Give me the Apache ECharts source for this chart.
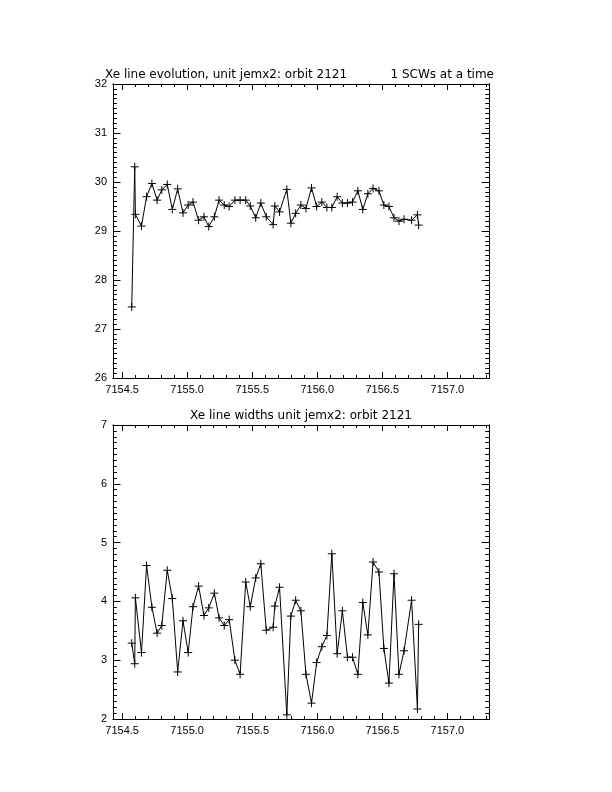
<!DOCTYPE html>
<html><head><meta charset="utf-8">
<script src="https://cdn.jsdelivr.net/npm/echarts@6/dist/echarts.min.js"></script>
<style>html,body{margin:0;padding:0;background:#fff}#c{width:612px;height:792px}</style>
</head><body><div id="c"></div>
<script>
// ---- data ----
var timeVals = [7154.574,7154.597,7154.602,7154.649,7154.688,7154.729,7154.769,7154.805,7154.847,7154.886,
7154.927,7154.968,7155.008,7155.045,7155.088,7155.129,7155.166,7155.209,7155.245,7155.285,
7155.323,7155.367,7155.407,7155.450,7155.485,7155.527,7155.566,7155.608,7155.661,7155.674,
7155.710,7155.766,7155.797,7155.834,7155.874,7155.913,7155.956,7155.995,7156.035,7156.074,
7156.112,7156.153,7156.193,7156.232,7156.271,7156.312,7156.350,7156.389,7156.429,7156.474,
7156.512,7156.551,7156.590,7156.628,7156.667,7156.725,7156.770,7156.779];
var lineEnergy = [27.45,30.31,29.34,29.10,29.70,29.97,29.63,29.84,29.95,29.44,
29.86,29.37,29.53,29.59,29.22,29.29,29.09,29.29,29.63,29.53,
29.50,29.63,29.63,29.63,29.51,29.27,29.57,29.29,29.13,29.51,
29.39,29.85,29.16,29.36,29.53,29.46,29.88,29.50,29.59,29.48,
29.48,29.70,29.57,29.57,29.59,29.82,29.44,29.76,29.87,29.82,
29.53,29.50,29.27,29.20,29.24,29.22,29.33,29.12];
var lineWidth = [3.29,2.94,4.06,3.13,4.61,3.90,3.46,3.59,4.53,4.05,
2.80,3.67,3.13,3.91,4.26,3.76,3.89,4.14,3.72,3.59,
3.69,3.00,2.76,4.33,3.91,4.40,4.64,3.51,3.56,3.92,
4.24,2.07,3.75,4.02,3.84,2.76,2.27,2.96,3.23,3.42,
4.81,3.11,3.84,3.05,3.05,2.76,3.98,3.43,4.67,4.50,
3.20,2.61,4.47,2.76,3.16,4.02,2.17,3.61];
var xTickLabels = [7154.5,7155.0,7155.5,7156.0,7156.5,7157.0];
var yTopTickLabels = [26,27,28,29,30,31,32];
var yBotTickLabels = [2,3,4,5,6,7];
var xRange = [7154.43, 7157.32];
var yTopRange = [26, 32];
var yBotRange = [2, 7];

function minors(lo, hi, step, majors){
  var out=[]; var n=Math.round((hi-lo)/step);
  for(var i=0;i<=n;i++){var v=Math.round((lo+i*step)*10)/10;
    if(majors.indexOf(v)<0) out.push(v);}
  return out;
}
var xMinor = minors(7154.5, 7157.3, 0.1, xTickLabels);
var yTopMinor = minors(26, 32, 0.1, yTopTickLabels);
var yBotMinor = minors(2, 7, 0.1, yBotTickLabels);

var FONT = 'Liberation Sans';
var TFONT = 'DejaVu Sans';
var black = '#000';
function mkX(g, pos, vals, len, labels){
  return {gridIndex:g, type:'value', min:xRange[0], max:xRange[1], position:pos,
    axisLine:{show:true, onZero:false, lineStyle:{color:black,width:1}},
    axisTick:{show:true, inside:true, length:len, customValues:vals, lineStyle:{color:black,width:1}},
    axisLabel:{show:!!labels, customValues:vals, margin:6, color:black, fontSize:11, fontFamily:FONT,
      formatter:function(v){return v.toFixed(1);}},
    splitLine:{show:false}};
}
function mkY(g, pos, rng, vals, len, labels){
  return {gridIndex:g, type:'value', min:rng[0], max:rng[1], position:pos,
    axisLine:{show:true, onZero:false, lineStyle:{color:black,width:1}},
    axisTick:{show:true, inside:true, length:len, customValues:vals, lineStyle:{color:black,width:1}},
    axisLabel:{show:!!labels, customValues:vals, margin:6, color:black, fontSize:11, fontFamily:FONT,
      formatter:function(v){return String(Math.round(v));}},
    splitLine:{show:false}};
}
var xAxes=[], yAxes=[];
[0,1].forEach(function(g){
  xAxes.push(mkX(g,'bottom',xTickLabels,6,true));
  xAxes.push(mkX(g,'bottom',xMinor,3,false));
  xAxes.push(mkX(g,'top',xTickLabels,6,false));
  xAxes.push(mkX(g,'top',xMinor,3,false));
  var rng = g===0?yTopRange:yBotRange;
  var maj = g===0?yTopTickLabels:yBotTickLabels;
  var mn = g===0?yTopMinor:yBotMinor;
  yAxes.push(mkY(g,'left',rng,maj,7.5,true));
  yAxes.push(mkY(g,'left',rng,mn,3.75,false));
  yAxes.push(mkY(g,'right',rng,maj,7.5,false));
  yAxes.push(mkY(g,'right',rng,mn,3.75,false));
});
var plus = 'path://M0,-4L0,4M-4,0L4,0';
function pairs(xs, ys){return xs.map(function(x,i){return [x, ys[i]];});}
function mkSeries(g, ys){
  return {type:'line', xAxisIndex:g*4, yAxisIndex:g*4, data:pairs(timeVals, ys),
    symbol:plus, symbolSize:8, showAllSymbol:true, silent:true,
    lineStyle:{color:black, width:1},
    itemStyle:{color:'transparent', borderColor:black, borderWidth:1},
    emphasis:{disabled:true}};
}
var tStyle = {fontFamily:TFONT, fontSize:12, fontWeight:'normal', color:black};
var chart = echarts.init(document.getElementById('c'), null, {renderer:'canvas'});
chart.setOption({
  animation:false,
  backgroundColor:'#fff',
  title:[
    {text:'Xe line evolution, unit jemx2: orbit 2121', left:105, top:69, padding:0, textStyle:tStyle},
    {text:'1 SCWs at a time', right:118, top:69, padding:0, textStyle:tStyle},
    {text:'Xe line widths unit jemx2: orbit 2121', left:301, textAlign:'center', top:410, padding:0, textStyle:tStyle}
  ],
  grid:[
    {left:113, top:84, width:376, height:294, containLabel:false},
    {left:113, top:425, width:376, height:294, containLabel:false}
  ],
  xAxis:xAxes, yAxis:yAxes,
  series:[mkSeries(0,lineEnergy), mkSeries(1,lineWidth)]
});
</script></body></html>
